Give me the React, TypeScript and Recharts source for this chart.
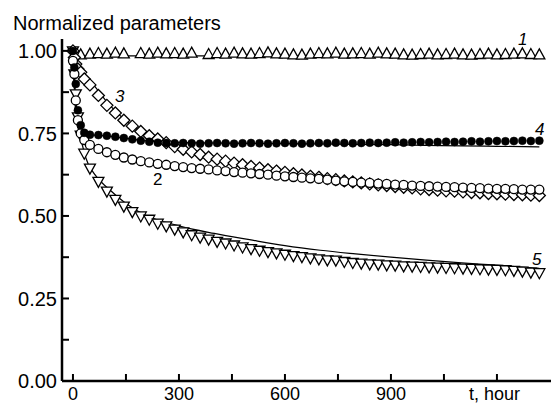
import { ComposedChart, Scatter, Line, XAxis, YAxis } from 'recharts';

const FONT = '"Liberation Sans", Arial, sans-serif';

// sampling times, hours
const hours = [
  0, 4, 8, 14, 22, 32, 48, 72, 96, 120,
  144, 168, 192, 216, 240, 264, 288, 312, 336, 360,
  384, 408, 432, 456, 480, 504, 528, 552, 576, 600,
  624, 648, 672, 696, 720, 744, 768, 792, 816, 840,
  864, 888, 912, 936, 960, 984, 1008, 1032, 1056, 1080,
  1104, 1128, 1152, 1176, 1200, 1224, 1248, 1272, 1296, 1320,
];

const curve1 = [
  null, null, null, null, 0.988, null, 0.99, 0.992, 0.99, 0.993,
  0.991, null, 0.992, 0.99, 0.993, 0.991, 0.992, 0.99, 0.993, null,
  0.989, 0.992, 0.99, 0.993, 0.991, 0.99, 0.992, 0.994, 0.991, 0.99,
  0.988, 0.987, 0.99, 0.992, 0.991, 0.993, 0.99, 0.991, 0.992, 0.99,
  0.993, 0.991, 0.99, 0.988, 0.987, 0.989, 0.99, 0.988, 0.989, 0.99,
  0.988, 0.987, 0.989, 0.99, 0.988, 0.989, 0.99, 0.991, 0.989, 0.988,
];

const curve2 = [
  0.97, 0.93, 0.85, 0.79, 0.75, 0.73, 0.715, 0.703, 0.693, 0.685,
  0.677, 0.671, 0.666, 0.662, 0.658, 0.655, 0.651, 0.648, 0.645, 0.643,
  0.641, 0.638, 0.636, 0.633, 0.631, 0.629, 0.627, 0.625, 0.622, 0.62,
  0.618, 0.616, 0.614, 0.612, 0.61, 0.607, 0.605, 0.603, 0.601, 0.6,
  0.598, 0.597, 0.595, 0.594, 0.592, 0.591, 0.59, 0.589, 0.588, 0.587,
  0.586, 0.585, 0.584, 0.583, 0.582, 0.582, 0.581, 0.58, 0.58, 0.58,
];

const curve3 = [
  1.0, 0.98, 0.96, 0.945, 0.935, 0.915, 0.897, 0.865, 0.835, 0.812,
  0.79, 0.772, 0.756, 0.743, 0.733, 0.722, 0.71, 0.702, 0.694, 0.686,
  0.678, 0.672, 0.666, 0.66, 0.655, 0.65, 0.645, 0.64, 0.636, 0.632,
  0.628, 0.624, 0.62, 0.617, 0.613, 0.61, 0.606, 0.603, 0.6, 0.597,
  0.594, 0.592, 0.589, 0.587, 0.585, 0.582, 0.58, 0.578, 0.576, 0.575,
  0.573, 0.571, 0.57, 0.568, 0.567, 0.566, 0.565, 0.564, 0.563, 0.562,
];

const curve4 = [
  1.0, 0.95, 0.9, 0.82, 0.775, 0.752, 0.746, 0.745, 0.743, 0.74,
  0.736, 0.732, 0.728, 0.725, 0.722, 0.721, 0.72, 0.721, 0.72, 0.719,
  0.72, 0.721, 0.72, 0.719, 0.72, 0.721, 0.72, 0.719, 0.72, 0.721,
  0.72, 0.719, 0.72, 0.721, 0.72, 0.722, 0.721, 0.72, 0.721, 0.722,
  0.721, 0.722, 0.723, 0.722, 0.723, 0.724, 0.723, 0.724, 0.725, 0.724,
  0.725, 0.726, 0.725, 0.726, 0.727, 0.726, 0.727, 0.728, 0.727, 0.728,
];

const curve5 = [
  1.0, 0.93, 0.87, 0.8, 0.745, 0.69, 0.645, 0.605, 0.575, 0.55,
  0.53, 0.513, 0.5, 0.49, 0.478, 0.47, 0.46, 0.452, 0.443, 0.436,
  0.43, 0.423, 0.418, 0.412, 0.406, 0.401, 0.396, 0.392, 0.388, 0.384,
  0.38, 0.377, 0.373, 0.37, 0.367, 0.366, 0.362, 0.359, 0.357, 0.355,
  0.354, 0.352, 0.351, 0.349, 0.348, 0.347, 0.346, 0.345, 0.344, 0.343,
  0.342, 0.341, 0.34, 0.339, 0.338, 0.337, 0.335, 0.333, 0.33, 0.328,
];

// fitted curves
const fitHours = [0, 5, 10, 20, 35, 60, 100, 150, 200, 300, 400, 500, 600, 700, 800, 900, 1000, 1100, 1200, 1320];
const fit1 = [1.0, 0.992, 0.988, 0.986, 0.985, 0.985, 0.985, 0.985, 0.985, 0.985, 0.985, 0.985, 0.985, 0.985, 0.984, 0.984, 0.984, 0.984, 0.984, 0.984];
const fit2 = [1.0, 0.86, 0.79, 0.75, 0.728, 0.712, 0.693, 0.677, 0.666, 0.65, 0.639, 0.629, 0.62, 0.612, 0.605, 0.598, 0.592, 0.587, 0.583, 0.579];
const fit3 = [1.0, 0.975, 0.962, 0.945, 0.925, 0.895, 0.84, 0.788, 0.75, 0.703, 0.674, 0.652, 0.634, 0.619, 0.607, 0.596, 0.587, 0.579, 0.572, 0.565];
const fit4 = [1.0, 0.88, 0.8, 0.757, 0.748, 0.745, 0.742, 0.735, 0.728, 0.723, 0.721, 0.72, 0.719, 0.718, 0.717, 0.716, 0.714, 0.712, 0.711, 0.709];
const fit5 = [1.0, 0.9, 0.83, 0.75, 0.68, 0.628, 0.583, 0.538, 0.505, 0.47, 0.447, 0.428, 0.41, 0.396, 0.385, 0.375, 0.366, 0.358, 0.351, 0.341];

const xTicks = [0, 150, 300, 450, 600, 750, 900, 1050, 1200];
const xTickLabels: Record<number, string> = { 0: '0', 300: '300', 600: '600', 900: '900', 1200: 't, hour' };
const yTicks = [0, 0.125, 0.25, 0.375, 0.5, 0.625, 0.75, 0.875, 1.0];
const yTickLabels = [0, 0.25, 0.5, 0.75, 1.0];

const toPoints = (xs: number[], ys: (number | null)[]) =>
  xs.map((x, i) => ({ x, y: ys[i] })).filter((p) => p.y != null);

const TriUp = ({ cx, cy }: any) => (
  <polygon points={`${cx},${cy - 6} ${cx - 5.5},${cy + 4} ${cx + 5.5},${cy + 4}`} fill="#fff" stroke="#000" strokeWidth={1.3} />
);
const TriDown = ({ cx, cy }: any) => (
  <polygon points={`${cx - 5.5},${cy - 4} ${cx + 5.5},${cy - 4} ${cx},${cy + 6}`} fill="#fff" stroke="#000" strokeWidth={1.3} />
);
const Diamond = ({ cx, cy }: any) => (
  <polygon points={`${cx},${cy - 6} ${cx + 6},${cy} ${cx},${cy + 6} ${cx - 6},${cy}`} fill="#fff" stroke="#000" strokeWidth={1.3} />
);
const OpenDot = ({ cx, cy }: any) => <circle cx={cx} cy={cy} r={4.5} fill="#fff" stroke="#000" strokeWidth={1.3} />;
const FilledDot = ({ cx, cy }: any) => <circle cx={cx} cy={cy} r={4} fill="#000" stroke="#000" strokeWidth={0.5} />;

const XTick = ({ x, y, payload }: any) => {
  const label = xTickLabels[payload.value];
  const isUnit = payload.value === 1200;
  return (
    <g>
      <line x1={x} x2={x} y1={y} y2={y - 7} stroke="#000" strokeWidth={2} />
      {label && (
        <text x={isUnit ? x + 23 : x} y={y + 19} textAnchor={isUnit ? 'end' : 'middle'} fontSize={18} fontFamily={FONT} fill="#000">
          {label}
        </text>
      )}
    </g>
  );
};

const YTick = ({ x, y, payload }: any) => {
  const v = payload.value;
  const show = yTickLabels.some((t) => Math.abs(t - v) < 1e-6);
  return (
    <g>
      <line x1={x} x2={x + 7} y1={y} y2={y} stroke="#000" strokeWidth={2} />
      {show && (
        <text x={x - 5} y={y} dy="0.36em" textAnchor="end" fontSize={20} fontFamily={FONT} fill="#000">
          {v.toFixed(2)}
        </text>
      )}
    </g>
  );
};

const numStyle = { fontSize: 17, fontFamily: FONT, fontStyle: 'italic' as const, fill: '#000' };

export default function App() {
  return (
    <div style={{ width: 551, height: 405 }}>
      <style>{'body{margin:0}'}</style>
      <ComposedChart width={551} height={405} margin={{ top: 39, right: 0, bottom: 0, left: 0 }}>
        <XAxis
          dataKey="x"
          type="number"
          domain={[-31, 1353]}
          ticks={xTicks}
          interval={0}
          allowDataOverflow
          height={24}
          tickSize={0}
          tickMargin={0}
          tickLine={false}
          axisLine={{ stroke: '#000', strokeWidth: 2.5 }}
          tick={(p: any) => <XTick {...p} />}
        />
        <YAxis
          dataKey="y"
          type="number"
          domain={[0, 1.036]}
          ticks={yTicks}
          interval={0}
          allowDataOverflow
          width={62}
          tickSize={0}
          tickMargin={0}
          tickLine={false}
          axisLine={{ stroke: '#000', strokeWidth: 2.5 }}
          tick={(p: any) => <YTick {...p} />}
        />
        <Scatter data={toPoints(hours, curve1)} shape={(p: any) => <TriUp {...p} />} isAnimationActive={false} />
        <Scatter data={toPoints(hours, curve5)} shape={(p: any) => <TriDown {...p} />} isAnimationActive={false} />
        <Scatter data={toPoints(hours, curve3)} shape={(p: any) => <Diamond {...p} />} isAnimationActive={false} />
        <Scatter data={toPoints(hours, curve2)} shape={(p: any) => <OpenDot {...p} />} isAnimationActive={false} />
        <Scatter data={toPoints(hours, curve4)} shape={(p: any) => <FilledDot {...p} />} isAnimationActive={false} />
        <Line data={toPoints(fitHours, fit1)} dataKey="y" type="monotone" stroke="#000" strokeWidth={1.2} dot={false} isAnimationActive={false} />
        <Line data={toPoints(fitHours, fit2)} dataKey="y" type="monotone" stroke="#000" strokeWidth={1.2} dot={false} isAnimationActive={false} />
        <Line data={toPoints(fitHours, fit3)} dataKey="y" type="monotone" stroke="#000" strokeWidth={1.2} dot={false} isAnimationActive={false} />
        <Line data={toPoints(fitHours, fit4)} dataKey="y" type="monotone" stroke="#000" strokeWidth={1.2} dot={false} isAnimationActive={false} />
        <Line data={toPoints(fitHours, fit5)} dataKey="y" type="monotone" stroke="#000" strokeWidth={1.2} dot={false} isAnimationActive={false} />
        <text x={13} y={30} fontSize={20} fontFamily={FONT} fill="#000">Normalized parameters</text>
        <text x={518} y={45} {...numStyle}>1</text>
        <text x={115} y={102} {...numStyle}>3</text>
        <text x={535} y={135} {...numStyle}>4</text>
        <text x={153} y={185} {...numStyle} fontStyle="normal">2</text>
        <text x={532} y={265} {...numStyle}>5</text>
      </ComposedChart>
    </div>
  );
}
